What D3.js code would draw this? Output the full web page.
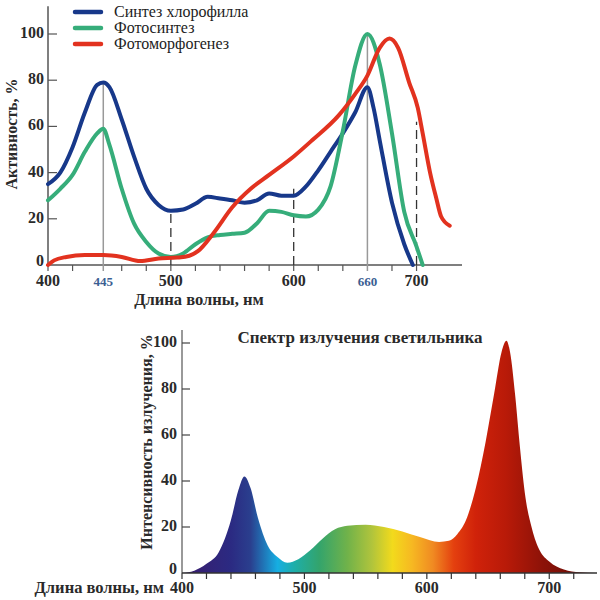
<!DOCTYPE html>
<html>
<head>
<meta charset="utf-8">
<title>Спектр</title>
<style>
  body { margin: 0; background: #fff; }
  svg { display: block; font-family: "Liberation Serif", "DejaVu Serif", serif; }
  .lbl { font-weight: bold; fill: #2a2a2a; }
</style>
</head>
<body>
<svg width="600" height="600"></svg>
<script src="https://d3js.org/d3.v7.min.js"></script>
<script>
// activity curves, [wavelength nm, %]
var chlorophyll = [[400,35],[410,40],[420,51],[430,66],[440,78],[445,79],[450,77],[460,63],[470,47],[480,33],[490,26],[500,23.5],[510,24],[520,26.5],[530,29.5],[540,28.8],[550,28],[560,27],[570,28],[580,31],[590,30],[600,30],[610,34],[620,41],[630,49],[640,57],[650,66],[660,77],[665,68],[670,54],[680,27],[690,9],[697,0]];
var photosynthesis = [[400,28],[410,33],[420,39],[430,49],[440,57],[445,59],[450,52],[460,33],[470,18],[480,10],[490,5],[500,3.5],[510,5],[520,9],[530,12],[540,13],[550,13.5],[560,14],[570,18],[580,23.5],[590,23],[600,21.5],[610,21],[620,24],[630,34],[640,58],[650,86],[660,100],[670,87],[680,57],[690,23],[700,8],[705,0]];
var photomorpho = [[400,0],[405,2],[415,3.5],[430,4.3],[445,4.3],[460,3.5],[475,1.7],[490,2.8],[505,3.2],[515,4],[522,6],[535,14],[550,25],[565,33],[580,39],[600,47],[615,54],[637,65],[650,74],[660,82],[670,94],[678,98],[685,94],[694,79],[701,68],[705,57],[711,40],[716,29],[720,21],[727,17]];

var seriesNames = ['Синтез хлорофилла', 'Фотосинтез', 'Фотоморфогенез'];
var seriesColors = ['#17388a', '#36ad7a', '#e2321f'];

// lamp spectrum
var lamp = [[400,0],[410,1],[420,4],[430,9],[440,23],[446,36],[451,42],[456,37],[462,24],[470,12],[478,7],[486,4.5],[495,6],[505,10],[515,15],[525,19],[535,20.5],[550,21],[565,20],[580,18],[595,15.5],[610,13.5],[618,14],[625,17],[632,23],[640,37],[648,57],[655,78],[661,96],[665,101],[668,96],[672,78],[676,55],[680,35],[686,19],[692,10],[700,5],[712,1.5],[725,0.3],[738,0]];
var lampStops = [[400,'#3a1c6c'],[440,'#2b2a82'],[456,'#2a3f8e'],[478,'#16aee2'],[492,'#1eaea8'],[512,'#33a46c'],[535,'#70b24a'],[555,'#b0c43c'],[572,'#f2da1c'],[588,'#f6b822'],[605,'#f08a22'],[622,'#e4400f'],[640,'#d0220a'],[665,'#b81a08'],[695,'#8c1208'],[740,'#5c0c06']];

var topTicks = [400,420,460,480,500,520,540,560,580,600,620,640,680,700];
var topLabels = [400,500,600,700];
var topMarks = [445,660];
var yTicks = [0,20,40,60,80,100];
var bottomTicks = d3.range(400, 740, 20);
var bottomLabels = [400,500,600,700];

var svg = d3.select('svg');

// ---------- top chart ----------
var x1 = d3.scaleLinear().domain([400, 737]).range([48, 462]);
var y1 = d3.scaleLinear().domain([0, 100]).range([265, 34]);
var g1 = svg.append('g');

// y axis
g1.append('line').attr('x1', x1(400)).attr('x2', x1(400)).attr('y1', y1(112)).attr('y2', y1(0))
  .attr('stroke', '#555').attr('stroke-width', 1.5);
g1.selectAll('.yt').data(yTicks.filter(function(d) { return d > 0; })).enter().append('line')
  .attr('x1', x1(400)).attr('x2', x1(400) + 9).attr('y1', y1).attr('y2', y1)
  .attr('stroke', '#555').attr('stroke-width', 1.2);
g1.selectAll('.yl').data(yTicks).enter().append('text').attr('class', 'lbl')
  .attr('x', x1(400) - 4).attr('y', function(d) { return y1(d) + (d === 0 ? 1 : 4); })
  .attr('text-anchor', 'end').style('font-size', '16px').text(function(d) { return d; });

// x axis
g1.append('line').attr('x1', x1(400)).attr('x2', x1(737)).attr('y1', y1(0)).attr('y2', y1(0))
  .attr('stroke', '#555').attr('stroke-width', 1.5);
g1.selectAll('.xt').data(topTicks).enter().append('line')
  .attr('x1', x1).attr('x2', x1).attr('y1', y1(0)).attr('y2', y1(0) + 6)
  .attr('stroke', '#555').attr('stroke-width', 1.2);
g1.selectAll('.xl').data(topLabels).enter().append('text').attr('class', 'lbl')
  .attr('x', x1).attr('y', y1(0) + 21).attr('text-anchor', 'middle')
  .style('font-size', '16px').text(function(d) { return d; });
g1.selectAll('.xm').data(topMarks).enter().append('text')
  .attr('x', x1).attr('y', y1(0) + 21).attr('text-anchor', 'middle')
  .attr('fill', '#3b5e92').style('font-size', '13px').style('font-weight', 'bold')
  .text(function(d) { return d; });

// guide lines
g1.append('line').attr('x1', x1(445)).attr('x2', x1(445)).attr('y1', y1(0) + 6).attr('y2', y1(79))
  .attr('stroke', '#999').attr('stroke-width', 1.5);
g1.append('line').attr('x1', x1(660)).attr('x2', x1(660)).attr('y1', y1(0) + 6).attr('y2', y1(100))
  .attr('stroke', '#999').attr('stroke-width', 1.5);
[[500, 23.5], [600, 33], [700, 62]].forEach(function(d) {
  g1.append('line').attr('x1', x1(d[0])).attr('x2', x1(d[0])).attr('y1', y1(0)).attr('y2', y1(d[1]))
    .attr('stroke', '#333').attr('stroke-width', 1.3).attr('stroke-dasharray', '9,5');
});

var line1 = d3.line().x(function(d) { return x1(d[0]); }).y(function(d) { return y1(d[1]); })
  .curve(d3.curveMonotoneX);
[chlorophyll, photosynthesis, photomorpho].forEach(function(s, i) {
  g1.append('path').datum(s).attr('d', line1).attr('fill', 'none')
    .attr('stroke', seriesColors[i]).attr('stroke-width', 4)
    .attr('stroke-linecap', 'round').attr('stroke-linejoin', 'round');
});

// legend
seriesNames.forEach(function(name, i) {
  var yy = 12 + i * 16;
  g1.append('line').attr('x1', 75).attr('x2', 101).attr('y1', yy).attr('y2', yy)
    .attr('stroke', seriesColors[i]).attr('stroke-width', 4.5).attr('stroke-linecap', 'round');
  g1.append('text').attr('x', 114).attr('y', yy + 5).attr('fill', '#222')
    .style('font-size', '16px').text(name);
});

g1.append('text').attr('class', 'lbl').attr('x', 199).attr('y', 305).attr('text-anchor', 'middle')
  .style('font-size', '16.5px').text('Длина волны, нм');
g1.append('text').attr('class', 'lbl').attr('transform', 'translate(17,134) rotate(-90)')
  .attr('text-anchor', 'middle').style('font-size', '16px').text('Активность, %');

// ---------- bottom chart ----------
var x2 = d3.scaleLinear().domain([400, 739]).range([182, 597]);
var y2 = d3.scaleLinear().domain([0, 100]).range([573, 343]);
var g2 = svg.append('g');

var grad = svg.append('defs').append('linearGradient').attr('id', 'spec')
  .attr('gradientUnits', 'userSpaceOnUse')
  .attr('x1', x2(400)).attr('x2', x2(740)).attr('y1', 0).attr('y2', 0);
grad.selectAll('stop').data(lampStops).enter().append('stop')
  .attr('offset', function(d) { return (d[0] - 400) / 340; })
  .attr('stop-color', function(d) { return d[1]; });

var area2 = d3.area().x(function(d) { return x2(d[0]); }).y0(y2(0)).y1(function(d) { return y2(d[1]); })
  .curve(d3.curveMonotoneX);
g2.append('path').datum(lamp).attr('d', area2).attr('fill', 'url(#spec)');

g2.append('line').attr('x1', x2(400)).attr('x2', x2(400)).attr('y1', 330).attr('y2', y2(0))
  .attr('stroke', '#999').attr('stroke-width', 2);
g2.selectAll('.yt').data(yTicks.filter(function(d) { return d > 0; })).enter().append('line')
  .attr('x1', x2(400)).attr('x2', x2(400) + 8).attr('y1', y2).attr('y2', y2)
  .attr('stroke', '#444').attr('stroke-width', 1.2);
g2.selectAll('.yl').data(yTicks).enter().append('text').attr('class', 'lbl')
  .attr('x', x2(400) - 5).attr('y', function(d) { return y2(d) + (d === 0 ? 1 : 4); })
  .attr('text-anchor', 'end').style('font-size', '16px').text(function(d) { return d; });

g2.append('line').attr('x1', x2(400)).attr('x2', x2(739)).attr('y1', y2(0)).attr('y2', y2(0))
  .attr('stroke', '#333').attr('stroke-width', 1.5);
g2.selectAll('.xt').data(bottomTicks).enter().append('line')
  .attr('x1', x2).attr('x2', x2).attr('y1', y2(0)).attr('y2', y2(0) + 6)
  .attr('stroke', '#333').attr('stroke-width', 1.2);
g2.selectAll('.xl').data(bottomLabels).enter().append('text').attr('class', 'lbl')
  .attr('x', x2).attr('y', y2(0) + 20).attr('text-anchor', 'middle')
  .style('font-size', '16px').text(function(d) { return d; });

g2.append('text').attr('class', 'lbl').attr('x', 164).attr('y', y2(0) + 20).attr('text-anchor', 'end')
  .style('font-size', '16.5px').text('Длина волны, нм');
g2.append('text').attr('class', 'lbl').attr('x', 360).attr('y', 343).attr('text-anchor', 'middle')
  .style('font-size', '17px').text('Спектр излучения светильника');
g2.append('text').attr('class', 'lbl').attr('transform', 'translate(152,442) rotate(-90)')
  .attr('text-anchor', 'middle').style('font-size', '16px').text('Интенсивность излучения, %');
</script>
</body>
</html>
